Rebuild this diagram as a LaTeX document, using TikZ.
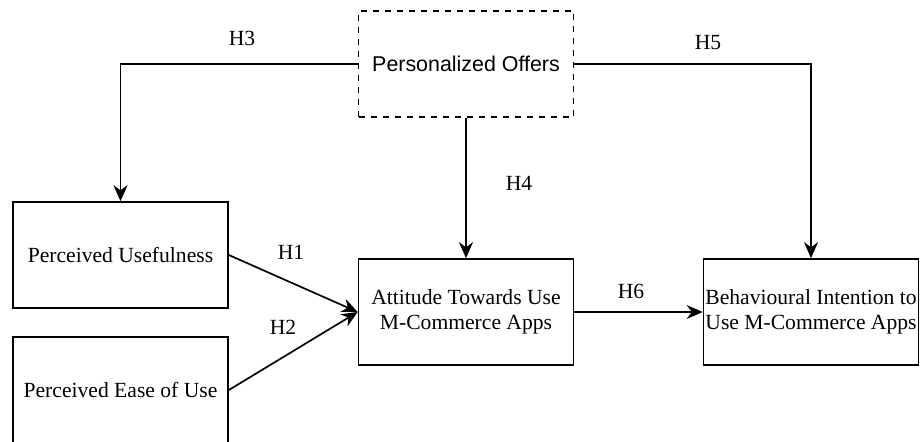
\documentclass[tikz,border=0pt]{standalone}
\usepackage{fontspec}
\setmainfont{Liberation Serif}
\setsansfont{Liberation Sans}
\usetikzlibrary{arrows.meta, positioning}

\tikzset{
    construct/.style={draw, line width=0.85pt, minimum width=107.5pt, minimum height=53pt,
          align=center, inner xsep=0.3pt, inner ysep=2pt, font=\fontsize{10.8}{12.6}\selectfont},
    moderator/.style={construct, dashed, font=\sffamily\fontsize{10.7}{12.6}\selectfont},
    link/.style={-{Stealth[length=8pt,width=7pt]}, line width=0.85pt},
    hyp/.style={font=\fontsize{10.8}{12.6}\selectfont}
}

\begin{document}
\begin{tikzpicture}[x=0.5pt, y=-0.5pt]
    \useasboundingbox (0,0) rectangle (920,441);

    % constructs
    \node[moderator] (po) at (466,64) {Personalized Offers};
    \node[construct] (pu) at (120.5,255) {Perceived Usefulness};
    \node[construct] (peou) at (120.5,390) {Perceived Ease of Use};
    \node[construct] (att) at (466,312) {Attitude Towards Use\\M-Commerce Apps};
    \node[construct] (bi) at (811,312) {Behavioural Intention to\\Use M-Commerce Apps};

    % hypotheses
    \draw[link] (po.west) -| (pu.north);
    \draw[link] (po.south) -- (att.north);
    \draw[link] (po.east) -| (bi.north);
    \draw[link] (pu.east) -- (att.west);
    \draw[link] (peou.east) -- (att.west);
    \draw[link] (att.east) -- (bi.west);

    \node[hyp] (h1) at (291,252) {H1};
    \node[hyp] (h2) at (283,327) {H2};
    \node[hyp] (h3) at (242,38) {H3};
    \node[hyp] (h4) at (519,183) {H4};
    \node[hyp] (h5) at (708,43) {H5};
    \node[hyp] (h6) at (631,291) {H6};
\end{tikzpicture}
\end{document}
